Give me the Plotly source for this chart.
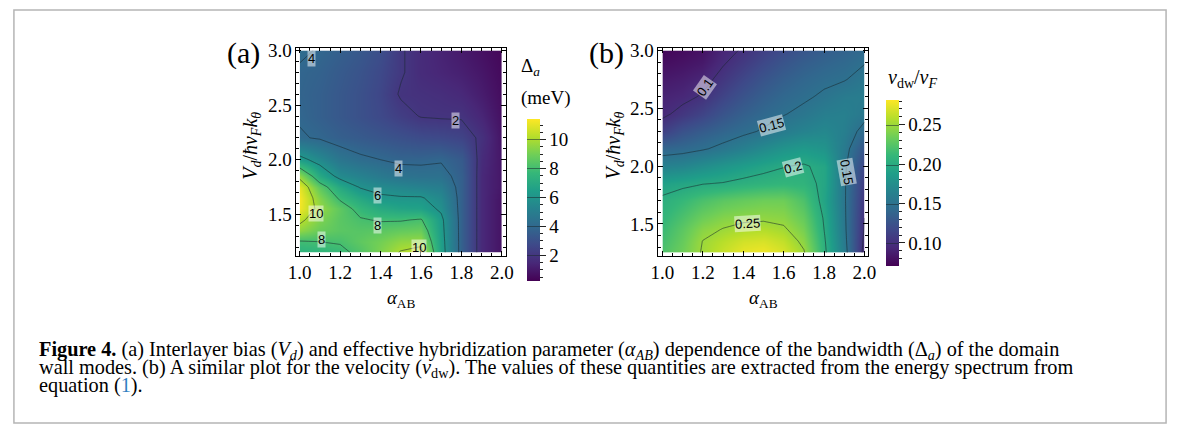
import plotly.graph_objects as go

# ---------------- data ----------------
alpha = [1.0, 1.1, 1.2, 1.3, 1.4, 1.5, 1.6, 1.7, 1.8, 1.9, 2.0]

# panel (a): bandwidth Delta_a (meV)
Va = [1.15, 1.25, 1.35, 1.45, 1.55, 1.65, 1.75, 1.85, 2.0, 2.2, 2.4, 2.6, 2.8, 3.0]
delta_a = [
    [7.4, 7.5, 7.7, 8.3, 9.2, 10.1, 10.5, 6.6, 3.6, 1.5, 0.8],
    [7.9, 8.0, 8.1, 8.6, 9.0, 9.5, 9.6, 6.5, 3.6, 1.5, 0.8],
    [9.5, 8.8, 8.5, 8.4, 8.5, 8.7, 8.8, 6.4, 3.6, 1.5, 0.8],
    [10.3, 9.2, 8.5, 8.1, 7.9, 7.9, 8.1, 6.3, 3.6, 1.5, 0.8],
    [11.2, 9.6, 8.6, 7.6, 7.0, 6.7, 6.6, 5.8, 3.6, 1.5, 0.8],
    [11.3, 9.3, 7.8, 6.9, 6.2, 6.1, 6.1, 5.5, 3.6, 1.5, 0.8],
    [11.0, 8.6, 7.0, 5.9, 5.6, 5.4, 5.2, 5.0, 3.6, 1.5, 0.9],
    [9.6, 7.0, 5.6, 5.2, 4.8, 4.5, 4.4, 4.4, 3.6, 1.5, 0.9],
    [6.4, 5.5, 4.6, 4.2, 4.0, 3.8, 3.8, 3.9, 3.4, 1.6, 0.9],
    [4.1, 3.9, 3.6, 3.4, 3.2, 3.0, 2.8, 2.7, 2.5, 1.8, 0.8],
    [3.9, 3.6, 3.3, 3.0, 2.7, 2.3, 1.95, 1.9, 1.9, 1.4, 0.7],
    [3.8, 3.6, 3.3, 3.0, 2.6, 1.9, 1.8, 1.7, 1.5, 1.1, 0.6],
    [3.85, 3.7, 3.4, 3.1, 2.7, 2.1, 1.6, 1.4, 1.2, 0.9, 0.5],
    [4.2, 3.9, 3.6, 3.3, 2.9, 2.1, 1.6, 1.3, 1.0, 0.7, 0.4],
]

# panel (b): velocity v_dw / v_F
Vb = [1.25, 1.35, 1.45, 1.55, 1.7, 1.85, 2.0, 2.15, 2.3, 2.45, 2.6, 2.75, 2.9, 3.0]
vdw_cols = [  # one list per alpha, values along Vb
    [0.222, 0.218, 0.214, 0.210, 0.204, 0.191, 0.165, 0.140, 0.112, 0.096, 0.092, 0.086, 0.079, 0.075],
    [0.235, 0.232, 0.228, 0.222, 0.212, 0.195, 0.168, 0.143, 0.125, 0.106, 0.095, 0.089, 0.082, 0.078],
    [0.252, 0.2505, 0.244, 0.235, 0.221, 0.199, 0.175, 0.148, 0.133, 0.115, 0.102, 0.094, 0.086, 0.082],
    [0.265, 0.260, 0.251, 0.243, 0.228, 0.201, 0.182, 0.155, 0.140, 0.127, 0.115, 0.106, 0.098, 0.094],
    [0.275, 0.268, 0.256, 0.246, 0.232, 0.205, 0.188, 0.163, 0.146, 0.136, 0.126, 0.117, 0.108, 0.102],
    [0.278, 0.270, 0.258, 0.247, 0.235, 0.208, 0.194, 0.172, 0.152, 0.143, 0.135, 0.127, 0.118, 0.112],
    [0.270, 0.263, 0.253, 0.245, 0.235, 0.210, 0.199, 0.180, 0.160, 0.149, 0.142, 0.135, 0.127, 0.120],
    [0.252, 0.245, 0.238, 0.232, 0.222, 0.208, 0.202, 0.185, 0.166, 0.155, 0.147, 0.141, 0.134, 0.128],
    [0.205, 0.203, 0.200, 0.198, 0.193, 0.195, 0.195, 0.180, 0.170, 0.162, 0.153, 0.146, 0.139, 0.134],
    [0.160, 0.157, 0.155, 0.154, 0.153, 0.153, 0.154, 0.158, 0.162, 0.163, 0.159, 0.149, 0.143, 0.138],
    [0.092, 0.095, 0.098, 0.100, 0.104, 0.108, 0.115, 0.127, 0.143, 0.156, 0.160, 0.156, 0.149, 0.145],
]
vdw = [[col[i] for col in vdw_cols] for i in range(len(Vb))]

cb_a_ticks = [2, 4, 6, 8, 10]
cb_b_ticks = [0.10, 0.15, 0.20, 0.25]
x_ticks = [1.0, 1.2, 1.4, 1.6, 1.8, 2.0]
y_ticks = [1.5, 2.0, 2.5, 3.0]

# contour labels: (text, alpha, V, angle)
labels_a = [("4", 1.06, 2.93, 0), ("2", 1.772, 2.358, 0), ("4", 1.49, 1.916, 0),
            ("6", 1.385, 1.67, 0), ("10", 1.08, 1.51, 0), ("8", 1.385, 1.40, 0),
            ("8", 1.11, 1.27, 0), ("10", 1.59, 1.20, 0)]
labels_b = [("0.1", 1.21, 2.68, -55), ("0.15", 1.538, 2.352, -15), ("0.2", 1.644, 1.99, -15),
            ("0.25", 1.42, 1.507, -3), ("0.15", 1.91, 1.95, 80)]

# ---------------- layout helpers ----------------
W, H = 1179, 426
def fx(px):
    return px / W
def fy(py):
    return 1 - py / H

SERIF = "Liberation Serif"
SANS = "Liberation Sans"
FS = 19

def cbar(x_px, top_px, bot_px, **kw):
    d = dict(x=fx(x_px), xanchor="left", y=fy((top_px + bot_px) / 2), yanchor="middle",
             lenmode="pixels", len=bot_px - top_px, thickness=13, outlinewidth=0,
             xpad=0, ypad=0, tickwidth=1, tickcolor="#222", ticks="outside")
    d.update(kw)
    return d

fig = go.Figure()

# minor-tick colorbars (drawn first)
fig.add_trace(go.Scatter(x=[None], y=[None], mode="markers", showlegend=False, hoverinfo="skip",
    marker=dict(color=[0.2], colorscale="Viridis", cmin=0.2, cmax=11.4, showscale=True,
                colorbar=cbar(526, 115, 277.3, tickmode="array",
                              tickvals=[v / 2 for v in range(1, 23)], ticklen=3,
                              showticklabels=False)),
    xaxis="x", yaxis="y"))
fig.add_trace(go.Scatter(x=[None], y=[None], mode="markers", showlegend=False, hoverinfo="skip",
    marker=dict(color=[0.0713], colorscale="Viridis", cmin=0.0713, cmax=0.282, showscale=True,
                colorbar=cbar(890, 95, 260.7, tickmode="array",
                              tickvals=[v / 100 for v in range(8, 29)], ticklen=3,
                              showticklabels=False)),
    xaxis="x2", yaxis="y2"))

fig.add_trace(go.Contour(
    x=alpha, y=Va, z=delta_a, colorscale="Viridis", zmin=0.2, zmax=11.4,
    contours=dict(start=2, end=10, size=2, coloring="heatmap", showlabels=False),
    line=dict(color="rgba(25,40,45,0.55)", width=1, smoothing=0),
    colorbar=cbar(526, 115, 277.3, tickmode="array", tickvals=cb_a_ticks, ticklen=6,
                  tickfont=dict(family=SERIF, size=FS, color="black")),
    hoverinfo="skip", xaxis="x", yaxis="y"))

fig.add_trace(go.Contour(
    x=alpha, y=Vb, z=vdw, colorscale="Viridis", zmin=0.0713, zmax=0.282,
    contours=dict(start=0.1, end=0.25, size=0.05, coloring="heatmap", showlabels=False),
    line=dict(color="rgba(25,40,45,0.55)", width=1, smoothing=0),
    colorbar=cbar(890, 95, 260.7, tickmode="array", tickvals=cb_b_ticks,
                  ticktext=["0.10", "0.15", "0.20", "0.25"], ticklen=6,
                  tickfont=dict(family=SERIF, size=FS, color="black")),
    hoverinfo="skip", xaxis="x2", yaxis="y2"))

axis_common = dict(showline=True, linecolor="black", linewidth=1, mirror="ticks",
                   ticks="inside", ticklen=5, tickwidth=1, tickcolor="black",
                   showgrid=False, zeroline=False,
                   tickfont=dict(family=SERIF, size=FS, color="black"))

xt = dict(axis_common, tickmode="array", tickvals=x_ticks, ticktext=["%.1f" % v for v in x_ticks],
          minor=dict(ticks="inside", ticklen=3, tickcolor="black", dtick=0.05, tick0=1.0, showgrid=False),
          title=dict(text="<i>α</i><sub>AB</sub>", font=dict(family=SERIF, size=FS, color="black"), standoff=8))
yt = dict(axis_common, tickmode="array", tickvals=y_ticks, ticktext=["%.1f" % v for v in y_ticks],
          minor=dict(ticks="inside", ticklen=3, tickcolor="black", dtick=0.1, tick0=1.0, showgrid=False))

fig.update_layout(
    width=W, height=H, margin=dict(l=0, r=0, t=0, b=0),
    paper_bgcolor="white", plot_bgcolor="white", showlegend=False,
    xaxis=dict(xt, domain=[fx(291.7), fx(504)], range=[0.9839, 2.0195], anchor="y"),
    yaxis=dict(yt, domain=[fy(252.3), fy(40.7)], range=[1.123, 3.023], anchor="x"),
    xaxis2=dict(xt, domain=[fx(659), fx(871.7)], range=[0.9805, 2.018], anchor="y2"),
    yaxis2=dict(yt, domain=[fy(252.3), fy(40.7)], range=[1.226, 3.022], anchor="x2"),
)

ann = []
for t, a, v, ang in labels_a:
    ann.append(dict(x=a, y=v, xref="x", yref="y", text=t, showarrow=False, textangle=ang,
                    xanchor="center", yanchor="middle",
                    font=dict(family=SANS, size=13, color="black"),
                    bgcolor="rgba(255,255,255,0.5)", borderpad=0))
for t, a, v, ang in labels_b:
    ann.append(dict(x=a, y=v, xref="x2", yref="y2", text=t, showarrow=False, textangle=ang,
                    xanchor="center", yanchor="middle",
                    font=dict(family=SANS, size=13, color="black"),
                    bgcolor="rgba(255,255,255,0.5)", borderpad=0))

def paper_text(text, px, py, size=FS, xanchor="center", angle=0):
    return dict(x=fx(px), y=fy(py), xref="paper", yref="paper", text=text, showarrow=False,
                xanchor=xanchor, yanchor="middle", textangle=angle, borderpad=0,
                font=dict(family=SERIF, size=size, color="black"))

# y-axis titles
ytitle = "<i>V<sub>d</sub></i>/<i>ħv<sub>F</sub>k<sub>θ</sub></i>"
ann.append(paper_text(ytitle, 246, 140, size=20, angle=-90))
ann.append(paper_text(ytitle, 614, 140, size=20, angle=-90))

# panel letters and colorbar titles
ann.append(paper_text("(a)", 238, 46, size=30))
ann.append(paper_text("(b)", 606, 46, size=30))
ann.append(paper_text("Δ<sub><i>a</i></sub>", 518, 60, xanchor="left"))
ann.append(paper_text("(meV)", 518, 92, xanchor="left"))
ann.append(paper_text("<i>v</i><sub>dw</sub>/<i>v<sub>F</sub></i>", 891, 72, size=FS + 1, xanchor="left"))

# caption
cap = [
    "<b>Figure 4.</b> (a) Interlayer bias (<i>V<sub>d</sub></i>) and effective hybridization parameter "
    "(<i>α<sub>AB</sub></i>) dependence of the bandwidth (Δ<sub><i>a</i></sub>) of the domain",
    "wall modes. (b) A similar plot for the velocity (<i>v</i><sub>dw</sub>). The values of these "
    "quantities are extracted from the energy spectrum from",
    "equation (<span style='color:#2f7fc1'>1</span>).",
]
for i, line in enumerate(cap):
    ann.append(paper_text(line, 29, 349 + 18 * i, size=20.3, xanchor="left"))
fig.update_layout(annotations=ann)

# outer frame
fig.add_shape(type="rect", xref="paper", yref="paper", x0=fx(5), x1=fx(1174), y0=fy(423), y1=fy(2),
              line=dict(color="#b5b5b5", width=1.5), fillcolor="rgba(0,0,0,0)", layer="below")

fig.write_html("out.html")
